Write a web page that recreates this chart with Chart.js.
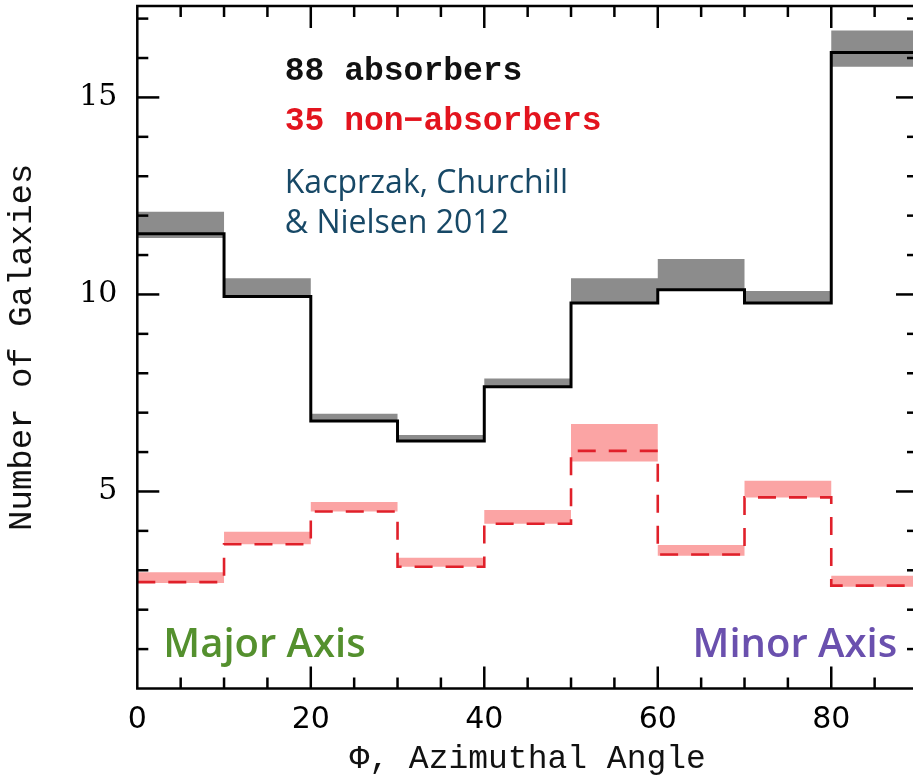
<!DOCTYPE html>
<html>
<head>
<meta charset="utf-8">
<script src="https://cdn.jsdelivr.net/npm/chart.js@4.4.1/dist/chart.umd.min.js"></script>
<style>
  html, body { margin: 0; padding: 0; overflow: hidden; background: #fff; width: 913px; height: 779px; }
  canvas { display: block; }
</style>
</head>
<body>
<canvas id="c" width="925" height="779"></canvas>
<script>
// Azimuthal-angle histograms, 10-degree bins
const binStarts = [0, 10, 20, 30, 40, 50, 60, 70, 80];
const binWidth = 10;

// Absorbing galaxies: counts and shaded range per bin
const absorbers     = [11.54, 9.95, 6.79, 6.28, 7.66, 9.78, 10.12, 9.78, 16.14];
const absorbersHigh = [12.10, 10.41, 6.97, 6.43, 7.87, 10.41, 10.90, 10.09, 16.70];
const absorbersLow  = [11.43, 9.95, 6.79, 6.28, 7.66, 9.78, 10.12, 9.78, 15.78];

// Non-absorbing galaxies: counts and shaded range per bin
const nonAbsorbers     = [2.70, 3.66, 4.49, 3.09, 4.18, 6.03, 3.40, 4.85, 2.61];
const nonAbsorbersHigh = [2.95, 3.98, 4.73, 3.32, 4.53, 6.71, 3.64, 5.27, 2.86];
const nonAbsorbersLow  = [2.68, 3.66, 4.49, 3.09, 4.18, 5.76, 3.37, 4.85, 2.58];

const xTickLabels = [0, 20, 40, 60, 80];
const yTickLabels = [5, 10, 15];

const X_MAX = 90;
const Y_MAX = 17.32;

// Turn per-bin values into a step outline ending at the last bin edge
function stepPoints(vals) {
  const pts = binStarts.map((x, i) => ({ x: x, y: vals[i] }));
  pts.push({ x: binStarts[binStarts.length - 1] + binWidth, y: vals[vals.length - 1] });
  return pts;
}

const lineBase = { stepped: true, pointRadius: 0, pointHoverRadius: 0, tension: 0 };

// Frame with inward tick marks on all four sides
const framePlugin = {
  id: 'frame',
  afterDatasetsDraw(chart) {
    const { ctx, chartArea: a, scales: { x, y } } = chart;
    ctx.save();
    ctx.strokeStyle = '#000';
    ctx.lineWidth = 2.5;
    ctx.lineCap = 'butt';
    const seg = (x1, y1, x2, y2) => { ctx.beginPath(); ctx.moveTo(x1, y1); ctx.lineTo(x2, y2); ctx.stroke(); };
    for (let v = 5; v < X_MAX; v += 5) {
      const px = x.getPixelForValue(v);
      const len = v % 20 === 0 ? 22 : 11;
      seg(px, a.bottom, px, a.bottom - len);
      seg(px, a.top, px, a.top + len);
    }
    for (let v = 1; v < Y_MAX; v += 1) {
      const py = y.getPixelForValue(v);
      const len = v % 5 === 0 ? 22 : 11;
      seg(a.left, py, a.left + len, py);
      seg(a.right, py, a.right - len, py);
    }
    ctx.strokeRect(a.left, a.top, a.right - a.left, a.bottom - a.top);
    ctx.restore();
  }
};

// Legend and annotation text, placed in data coordinates
const notesPlugin = {
  id: 'notes',
  afterDraw(chart) {
    const { ctx, scales: { x, y } } = chart;
    ctx.save();
    ctx.textBaseline = 'alphabetic';
    ctx.textAlign = 'left';

    ctx.font = 'bold 33px "Liberation Mono", monospace';
    ctx.fillStyle = '#111';
    ctx.fillText('88 absorbers', x.getPixelForValue(17), y.getPixelForValue(15.44));
    ctx.fillStyle = '#e3141e';
    ctx.fillText('35 non\u2212absorbers', x.getPixelForValue(17), y.getPixelForValue(14.18));

    ctx.font = '400 32px "Open Sans", sans-serif';
    ctx.fillStyle = '#174866';
    ctx.fillText('Kacprzak, Churchill', x.getPixelForValue(17), y.getPixelForValue(12.58));
    ctx.fillText('& Nielsen 2012', x.getPixelForValue(17), y.getPixelForValue(11.56));

    ctx.font = '600 40px "Open Sans", sans-serif';
    ctx.fillStyle = '#54902e';
    ctx.fillText('Major Axis', x.getPixelForValue(3.0), y.getPixelForValue(0.8));
    ctx.textAlign = 'right';
    ctx.fillStyle = '#6a50ae';
    ctx.fillText('Minor Axis', x.getPixelForValue(87.6), y.getPixelForValue(0.8));
    ctx.restore();
  }
};

new Chart(document.getElementById('c'), {
  type: 'line',
  data: {
    datasets: [
      Object.assign({ label: '88 absorbers', data: stepPoints(absorbers),
        borderColor: '#000', borderWidth: 3, fill: false, borderJoinStyle: 'miter' }, lineBase),
      Object.assign({ label: '35 non-absorbers', data: stepPoints(nonAbsorbers),
        borderColor: '#e0202a', borderWidth: 2.6, borderDash: [18, 13], fill: false }, lineBase),
      Object.assign({ label: 'absorbers high', data: stepPoints(absorbersHigh),
        borderWidth: 0, borderColor: 'rgba(0,0,0,0)', fill: false }, lineBase),
      Object.assign({ label: 'absorbers low', data: stepPoints(absorbersLow),
        borderWidth: 0, borderColor: 'rgba(0,0,0,0)', backgroundColor: '#8c8c8c', fill: '-1' }, lineBase),
      Object.assign({ label: 'non-absorbers high', data: stepPoints(nonAbsorbersHigh),
        borderWidth: 0, borderColor: 'rgba(0,0,0,0)', fill: false }, lineBase),
      Object.assign({ label: 'non-absorbers low', data: stepPoints(nonAbsorbersLow),
        borderWidth: 0, borderColor: 'rgba(0,0,0,0)', backgroundColor: '#fba4a4', fill: '-1' }, lineBase)
    ]
  },
  options: {
    responsive: false,
    animation: false,
    devicePixelRatio: 1,
    layout: { padding: { left: 2, right: 7, top: 6, bottom: 0 } },
    plugins: { legend: { display: false }, tooltip: { enabled: false } },
    scales: {
      x: {
        type: 'linear', min: 0, max: X_MAX,
        grid: { display: false, drawTicks: false },
        border: { display: false },
        afterBuildTicks: (s) => { s.ticks = xTickLabels.map(v => ({ value: v })); },
        afterFit: (s) => { s.height = 779 - 688.5; s.paddingLeft = 0; s.paddingRight = 0; },
        ticks: { color: '#000', padding: 14, maxRotation: 0, autoSkip: false,
                 font: { family: '"DejaVu Sans", sans-serif', size: 30 } },
        title: { display: true, text: '\u03A6, Azimuthal Angle', color: '#111', padding: 0,
                 font: { family: '"Liberation Mono", monospace', size: 33 } }
      },
      y: {
        type: 'linear', min: 0, max: Y_MAX,
        grid: { display: false, drawTicks: false },
        border: { display: false },
        afterBuildTicks: (s) => { s.ticks = yTickLabels.map(v => ({ value: v })); },
        afterFit: (s) => { s.width = 137.3 - 2; s.paddingTop = 0; s.paddingBottom = 0; },
        ticks: { color: '#000', padding: 20, autoSkip: false,
                 font: { family: '"DejaVu Serif", serif', size: 30 } },
        title: { display: true, text: 'Number of Galaxies', color: '#111', padding: 0,
                 font: { family: '"Liberation Mono", monospace', size: 34 } }
      }
    }
  },
  plugins: [framePlugin, notesPlugin]
});
</script>
</body>
</html>
